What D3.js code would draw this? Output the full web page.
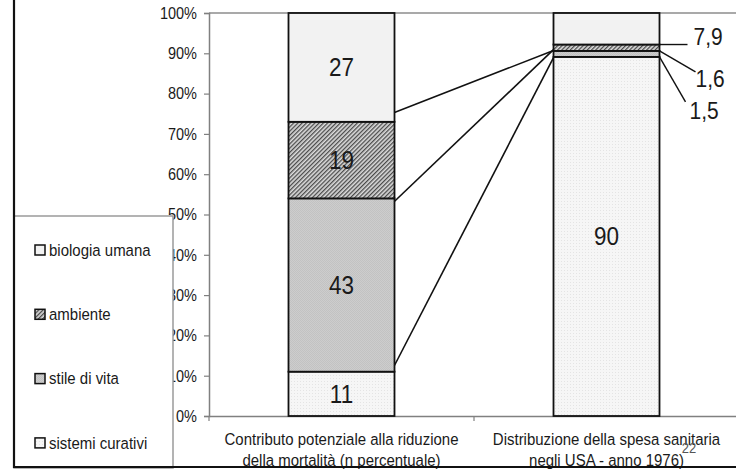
<!DOCTYPE html>
<html>
<head>
<meta charset="utf-8">
<script src="https://cdn.jsdelivr.net/npm/d3@7"></script>
<style>
  html, body { margin: 0; padding: 0; background: #fff; }
  svg { display: block; font-family: Arial, "Liberation Sans", sans-serif; }
</style>
</head>
<body>
<svg id="chart" width="736" height="470"></svg>
<script>
// Categories (two text lines each) and series, stacked bottom to top
const categoryLines = [
  ["Contributo potenziale alla riduzione", "della mortalità (n percentuale)"],
  ["Distribuzione della spesa sanitaria", "negli USA - anno 1976)"]
];
const seriesKeys = ["sistemi curativi", "stile di vita", "ambiente", "biologia umana"];
const mortalita = [11, 43, 19, 27];
const spesa = [90, 1.5, 1.6, 7.9];
const yTicks = [0, 0.1, 0.2, 0.3, 0.4, 0.5, 0.6, 0.7, 0.8, 0.9, 1];
// Hand-drawn connector lines between the two columns: [left share, right share]
const connectors = [[0.751, 0.907], [0.528, 0.909], [0.116, 0.889]];
const pageNumber = "22";

const svg = d3.select("#chart");
const W = 736, H = 470;
const plot = { left: 209, right: 739, top: 13, bottom: 416 };
const TXT = "#1a1a1a";
const STRETCH = 1.12;

const rows = categoryLines.map((c, i) => {
  const vals = i === 0 ? mortalita : spesa;
  const r = { idx: i };
  seriesKeys.forEach((k, j) => r[k] = vals[j]);
  return r;
});
const stacked = d3.stack().keys(seriesKeys).offset(d3.stackOffsetExpand)(rows);

const x = d3.scaleBand().domain(rows.map(r => r.idx))
  .range([plot.left, plot.right]).paddingInner(0.6).paddingOuter(0.3);
const y = d3.scaleLinear().domain([0, 1]).range([plot.bottom, plot.top]);

// Fill patterns
const defs = svg.append("defs");
const pHatch = defs.append("pattern").attr("id", "hatch").attr("patternUnits", "userSpaceOnUse")
  .attr("width", 3).attr("height", 3).attr("patternTransform", "rotate(45)");
pHatch.append("rect").attr("width", 3).attr("height", 3).attr("fill", "#dcdcdc");
pHatch.append("rect").attr("width", 1.3).attr("height", 3).attr("fill", "#4a4a4a");

const pGray = defs.append("pattern").attr("id", "grayDots").attr("patternUnits", "userSpaceOnUse")
  .attr("width", 2).attr("height", 2);
pGray.append("rect").attr("width", 2).attr("height", 2).attr("fill", "#cdcdcd");
pGray.append("rect").attr("width", 1).attr("height", 1).attr("fill", "#c2c2c2");
pGray.append("rect").attr("x", 1).attr("y", 1).attr("width", 1).attr("height", 1).attr("fill", "#c2c2c2");

const pLight = defs.append("pattern").attr("id", "lightDots").attr("patternUnits", "userSpaceOnUse")
  .attr("width", 3).attr("height", 3);
pLight.append("rect").attr("width", 3).attr("height", 3).attr("fill", "#f6f6f6");
pLight.append("rect").attr("width", 1).attr("height", 1).attr("fill", "#e4e4e4");

const fills = {
  "sistemi curativi": "url(#lightDots)",
  "stile di vita": "url(#grayDots)",
  "ambiente": "url(#hatch)",
  "biologia umana": "#f2f2f2"
};

function label(g, px, py, str, size, anchor, color) {
  return g.append("text")
    .attr("transform", `translate(${px},${py}) scale(1,${STRETCH})`)
    .attr("text-anchor", anchor || "middle")
    .attr("dominant-baseline", "central")
    .attr("font-size", size)
    .attr("fill", color || TXT)
    .text(str);
}

// Plot frame (top edge) and axes
svg.append("line").attr("x1", plot.left).attr("x2", plot.right)
  .attr("y1", plot.top).attr("y2", plot.top).attr("stroke", "#8c8c8c").attr("stroke-width", 1.5);

const yAxis = svg.append("g").attr("transform", `translate(${plot.left},0)`)
  .call(d3.axisLeft(y).tickValues(yTicks).tickFormat(d3.format(".0%")).tickSize(5).tickPadding(6));
yAxis.select(".domain").attr("stroke", "#808080").attr("stroke-width", 1.5);
yAxis.selectAll(".tick line").attr("stroke", "#808080").attr("stroke-width", 1.2);
yAxis.selectAll(".tick text").remove();
yTicks.forEach(t => label(svg, plot.left - 12, y(t), d3.format(".0%")(t), 14.5, "end"));

const xAxis = svg.append("g").attr("transform", `translate(0,${plot.bottom})`)
  .call(d3.axisBottom(x).tickSize(0).tickFormat(""));
xAxis.select(".domain").attr("stroke", "#808080").attr("stroke-width", 1.5);
xAxis.selectAll(".tick").remove();
// band boundary ticks
const step = x.step();
[plot.left, plot.left + step].forEach(bx => {
  svg.append("line").attr("x1", bx).attr("x2", bx).attr("y1", plot.bottom).attr("y2", plot.bottom + 5)
    .attr("stroke", "#808080").attr("stroke-width", 1.2);
});

// Category labels
rows.forEach((r, i) => {
  const cx = x(r.idx) + x.bandwidth() / 2;
  label(svg, cx, 439, categoryLines[i][0], 15);
  label(svg, cx, 460, categoryLines[i][1], 15);
});

// Connector lines
connectors.forEach(([a, b]) => {
  svg.append("line")
    .attr("x1", x(0) + x.bandwidth() - 2).attr("y1", y(a))
    .attr("x2", x(1)).attr("y2", y(b))
    .attr("stroke", "#111").attr("stroke-width", 1.6);
});

// Stacked bars
const layers = svg.append("g").selectAll("g").data(stacked).join("g")
  .attr("fill", d => fills[d.key]);
layers.selectAll("rect").data(d => d).join("rect")
  .attr("x", d => x(d.data.idx))
  .attr("width", x.bandwidth())
  .attr("y", d => y(d[1]))
  .attr("height", d => y(d[0]) - y(d[1]))
  .attr("stroke", "#111").attr("stroke-width", 1.8);

// Value labels: inside for the first column, inside the large segment of the second
const fmt = v => String(v).replace(".", ",");
stacked.forEach(layer => {
  layer.forEach(d => {
    const v = d.data[layer.key];
    const cx = x(d.data.idx) + x.bandwidth() / 2;
    const cy = (y(d[0]) + y(d[1])) / 2;
    if (d.data.idx === 0 || v >= 50) label(svg, cx, cy, fmt(v), 22.5);
  });
});

// Outside labels with leader lines for the thin segments of the second column
const right = x(1) + x.bandwidth();
const outside = [
  { key: "biologia umana", dx: 28, dy: 0, tx: 34, ty: -7, lx: 0 },
  { key: "ambiente", dx: 36, dy: 21, tx: 36, ty: 28.5, lx: 0 },
  { key: "stile di vita", dx: 26, dy: 45, tx: 30, ty: 54, lx: 0 }
];
outside.forEach(o => {
  const layer = stacked.find(s => s.key === o.key);
  const d = layer[1];
  const y0 = y(d[0]);
  svg.append("line").attr("x1", right).attr("y1", y0)
    .attr("x2", right + o.dx).attr("y2", y0 + o.dy)
    .attr("stroke", "#111").attr("stroke-width", 1.4);
  label(svg, right + o.tx, y0 + o.ty, fmt(d.data[o.key]), 21, "start");
});

// Legend box (drawn over the lower tick labels)
const lg = svg.append("g");
lg.append("rect").attr("x", 14).attr("y", 216).attr("width", 159).attr("height", 252)
  .attr("fill", "#fff").attr("stroke", "#9a9a9a").attr("stroke-width", 1.5);
const legendOrder = seriesKeys.slice().reverse();
legendOrder.forEach((k, i) => {
  const cy = 250 + i * 64.3;
  lg.append("rect").attr("x", 35).attr("y", cy - 5).attr("width", 10).attr("height", 10)
    .attr("fill", fills[k]).attr("stroke", "#111").attr("stroke-width", 1.5);
  label(lg, 49, cy, k, 15, "start");
});

// Slide frame
svg.append("line").attr("x1", 14).attr("x2", 14).attr("y1", 0).attr("y2", 468)
  .attr("stroke", "#111").attr("stroke-width", 2.2);
svg.append("line").attr("x1", 13).attr("x2", W).attr("y1", 467).attr("y2", 467)
  .attr("stroke", "#111").attr("stroke-width", 2.2);

// Page number
label(svg, 689, 448, pageNumber, 13, "middle", "#555");
</script>
</body>
</html>
